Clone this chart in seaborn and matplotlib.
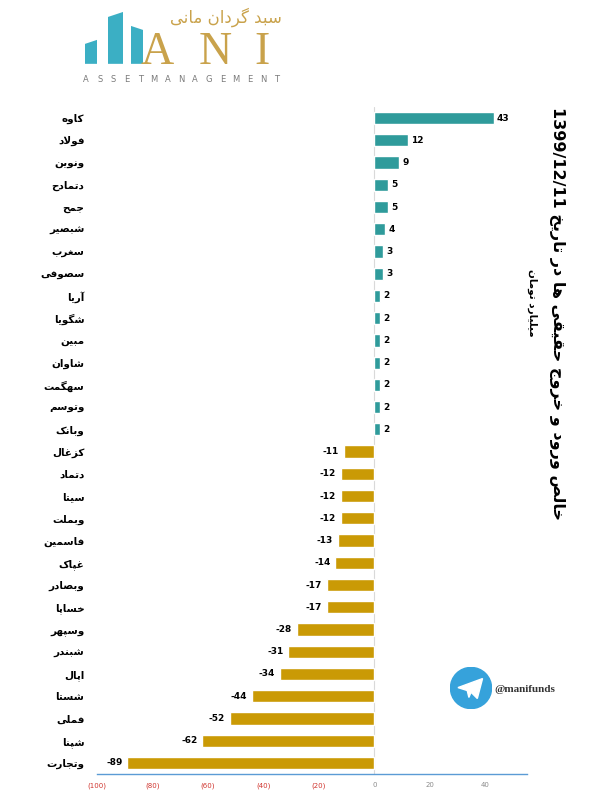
import re
import numpy as np
import pandas as pd
import seaborn as sns
import matplotlib.pyplot as plt
from matplotlib.patches import Circle, Polygon

# net individual money flow, billion toman
symbols = ["کاوه", "فولاد", "ونوین", "دتمادح", "جمح", "شبصیر", "سغرب", "سصوفی",
           "آریا", "شگویا", "مبین", "شاوان", "سهگمت", "وتوسم", "وبانک",
           "کزغال", "دتماد", "سیتا", "وبملت", "فاسمین", "غپاک", "وبصادر", "خساپا",
           "وسپهر", "شبندر", "اپال", "شستا", "فملی", "شپنا", "وتجارت"]
flows = [43, 12, 9, 5, 5, 4, 3, 3, 2, 2, 2, 2, 2, 2, 2,
         -11, -12, -12, -12, -13, -14, -17, -17, -28, -31, -34, -44, -52, -62, -89]
xticks = [-100, -80, -60, -40, -20, 0, 20, 40]
title = "خالص ورود و خروج حقیقی ها در تاریخ 1399/12/11"
subtitle = "میلیارد تومان"

TEAL = "#2F9B9B"
GOLD = "#CA9A05"

# --- minimal persian shaping (matplotlib has no complex text layout) ---
DUAL = set("بپتثجچحخسشصضطظعغفقکگلمنهی")
FORMS = {
    "ا": "\uFE8D\uFE8E", "آ": "\uFE81\uFE82", "د": "\uFEA9\uFEAA", "ر": "\uFEAD\uFEAE",
    "ز": "\uFEAF\uFEB0", "و": "\uFEED\uFEEE",
    "ب": "\uFE8F\uFE90\uFE91\uFE92", "پ": "\uFB56\uFB57\uFB58\uFB59",
    "ت": "\uFE95\uFE96\uFE97\uFE98", "ج": "\uFE9D\uFE9E\uFE9F\uFEA0",
    "ح": "\uFEA1\uFEA2\uFEA3\uFEA4", "خ": "\uFEA5\uFEA6\uFEA7\uFEA8",
    "س": "\uFEB1\uFEB2\uFEB3\uFEB4", "ش": "\uFEB5\uFEB6\uFEB7\uFEB8",
    "ص": "\uFEB9\uFEBA\uFEBB\uFEBC", "غ": "\uFECD\uFECE\uFECF\uFED0",
    "ف": "\uFED1\uFED2\uFED3\uFED4", "ق": "\uFED5\uFED6\uFED7\uFED8",
    "ک": "\uFB8E\uFB8F\uFB90\uFB91", "گ": "\uFB92\uFB93\uFB94\uFB95",
    "ل": "\uFEDD\uFEDE\uFEDF\uFEE0", "م": "\uFEE1\uFEE2\uFEE3\uFEE4",
    "ن": "\uFEE5\uFEE6\uFEE7\uFEE8", "ه": "\uFEE9\uFEEA\uFEEB\uFEEC",
    "ی": "\uFBFC\uFBFD\uFBFE\uFBFF",
}
LAM_ALEF = {"ا": "\uFEFB\uFEFC", "آ": "\uFEF5\uFEF6"}


def fa(s):
    units = []
    i = 0
    while i < len(s):
        if s[i] == "ل" and i + 1 < len(s) and s[i + 1] in LAM_ALEF:
            units.append(("LA", LAM_ALEF[s[i + 1]]))
            i += 2
        else:
            units.append((s[i], FORMS.get(s[i])))
            i += 1
    out = []
    for k, (ch, forms) in enumerate(units):
        if forms is None:
            out.append(ch)
            continue
        join_prev = k > 0 and units[k - 1][0] in DUAL
        join_next = len(forms) == 4 and k + 1 < len(units) and units[k + 1][1] is not None
        if len(forms) == 4:
            idx = [[0, 2], [1, 3]][join_prev][join_next]
        else:
            idx = 1 if join_prev else 0
        out.append(forms[idx])
    chunks = re.findall(r"[0-9A-Za-z/.:@\-]+|.", "".join(out))
    return "".join(chunks[::-1])


df = pd.DataFrame({"symbol": [fa(s) for s in symbols], "flow": flows})
df["side"] = np.where(df["flow"] > 0, "in", "out")

sns.set_style("white")
plt.rcParams["font.family"] = ["DejaVu Sans"]
plt.rcParams["text.color"] = "black"
plt.rcParams["ytick.color"] = "black"

fig = plt.figure(figsize=(5.98, 7.98), dpi=100)
ax = fig.add_axes([0.162, 0.030, 0.719, 0.836])

sns.barplot(data=df, x="flow", y="symbol", hue="side", palette={"in": TEAL, "out": GOLD},
            order=df["symbol"], orient="h", width=0.55, dodge=False, legend=False,
            saturation=1, ax=ax)

ax.axvline(0, color="#D9D9D9", lw=0.8, zorder=0)
ax.set_xlim(-100, 55)
ax.set_ylim(len(df) - 0.5, -0.5)
ax.set_xlabel("")
ax.set_ylabel("")

for i, v in enumerate(df["flow"]):
    if v > 0:
        ax.text(v + 1.2, i, str(v), ha="left", va="center", fontsize=6.5, fontweight="bold")
    else:
        ax.text(v - 1.8, i, str(v), ha="right", va="center", fontsize=6.5, fontweight="bold")

ax.set_xticks(xticks)
ax.set_xticklabels([f"({abs(t)})" if t < 0 else str(t) for t in xticks])
for t, lab in zip(xticks, ax.get_xticklabels()):
    lab.set_color("#D0352F" if t < 0 else "#8C8C8C")
    lab.set_fontsize(5)
ax.tick_params(axis="x", length=0, pad=6)
ax.tick_params(axis="y", length=0, pad=9, labelcolor="black")
for lab in ax.get_yticklabels():
    lab.set_fontsize(7.5)
    lab.set_fontweight("bold")

for side in ["top", "right", "left"]:
    ax.spines[side].set_visible(False)
ax.spines["bottom"].set_color("#5B9BD5")
ax.spines["bottom"].set_linewidth(1)

# title, rotated on the right
fig.text(0.932, 0.607, fa(title), rotation=270, ha="center", va="center",
         fontsize=11.5, fontweight="bold")
fig.text(0.889, 0.620, fa(subtitle), rotation=270, ha="center", va="center",
         fontsize=7.5, fontweight="bold")

# logo
logo = fig.add_axes([0, 0.88, 1, 0.12])
logo.set_xlim(0, 598)
logo.set_ylim(96, 0)
logo.axis("off")
for pts in ([(85, 64), (85, 44), (97, 40), (97, 64)],
            [(108, 64), (108, 17), (123, 12), (123, 64)],
            [(131, 64), (131, 26), (143, 30), (143, 64)]):
    logo.add_patch(Polygon(pts, closed=True, color="#3BAFC4", lw=0))
for ch, x in zip("ANI", [157, 215, 262]):
    logo.text(x, 64, ch, ha="center", va="baseline", fontsize=33,
              family="Liberation Serif", color="#C9A24B")
for ch, x in zip("ASSETMANAGEMENT", np.linspace(86, 277, 15)):
    logo.text(x, 80, ch, ha="center", va="center", fontsize=6, color="#7A7A7A")
logo.text(226, 17, fa("سبد گردان مانی"), ha="center", va="center", fontsize=12,
          color="#C9A24B")

# telegram badge
tg = fig.add_axes([450 / 598, 1 - 709 / 798, 42 / 598, 42 / 798])
tg.set_xlim(-1, 1)
tg.set_ylim(-1, 1)
tg.axis("off")
tg.add_patch(Circle((0, 0), 0.98, color="#36A2DB"))
tg.add_patch(Polygon([(-0.62, 0.02), (0.55, 0.45), (0.3, -0.5), (0.0, -0.2), (-0.1, -0.45),
                      (-0.18, -0.12)], closed=True, color="white"))
fig.text(494 / 598, 1 - 689 / 798, "@manifunds", ha="left", va="center", fontsize=8,
         fontweight="bold", family="Liberation Serif", color="#333333")

fig.savefig("out.png", dpi=100)
